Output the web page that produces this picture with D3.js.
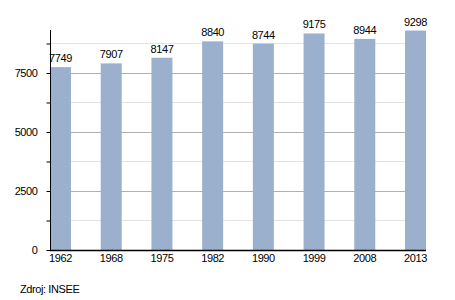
<!DOCTYPE html>
<html>
<head>
<meta charset="utf-8">
<script src="https://cdn.jsdelivr.net/npm/d3@7"></script>
<style>
  body { margin: 0; background: #fff; }
  text { font-family: "Liberation Sans", Arial, sans-serif; font-size: 11px; fill: #000; letter-spacing: -0.4px; }
</style>
</head>
<body>
<script>
var years = ["1962", "1968", "1975", "1982", "1990", "1999", "2008", "2013"];
var population = [7749, 7907, 8147, 8840, 8744, 9175, 8944, 9298];
var majorTicks = [0, 2500, 5000, 7500];
var minorTicks = [1250, 3750, 6250, 8750];

var width = 455, height = 300;
var margin = {top: 30, right: 29, bottom: 50, left: 50};

var svg = d3.select("body").append("svg")
    .attr("width", width)
    .attr("height", height);

var x = d3.scaleBand()
    .domain(years)
    .range([margin.left, width - margin.right])
    .paddingInner(0.586)
    .paddingOuter(0)
    .align(0);

var y = d3.scaleLinear()
    .domain([0, 9322])
    .range([height - margin.bottom, margin.top]);

// minor grid
svg.append("g").selectAll("line").data(minorTicks).enter().append("line")
    .attr("x1", margin.left).attr("x2", width - margin.right)
    .attr("y1", d => Math.round(y(d)) + 0.5).attr("y2", d => Math.round(y(d)) + 0.5)
    .attr("stroke", "#e2e2e2");

// major grid
svg.append("g").selectAll("line").data(majorTicks.slice(1)).enter().append("line")
    .attr("x1", margin.left).attr("x2", width - margin.right)
    .attr("y1", d => Math.round(y(d)) + 0.5).attr("y2", d => Math.round(y(d)) + 0.5)
    .attr("stroke", "#b0b0b0");

// bars
svg.append("g")
    .attr("fill", "#9ab0cc")
  .selectAll("rect").data(population).enter().append("rect")
    .attr("x", (d, i) => x(years[i]))
    .attr("y", d => y(d))
    .attr("width", x.bandwidth())
    .attr("height", d => y(0) - y(d));

// value labels
svg.append("g").selectAll("text").data(population).enter().append("text")
    .attr("x", (d, i) => x(years[i]) + x.bandwidth() / 2)
    .attr("y", d => y(d) - 5)
    .attr("text-anchor", "middle")
    .text(d => d);

// y axis
var yAxis = g => g
    .attr("transform", `translate(${margin.left + 0.5},0)`)
    .call(d3.axisLeft(y).tickValues(majorTicks.concat(minorTicks)).tickSize(4).tickPadding(9)
      .tickFormat(d => majorTicks.indexOf(d) >= 0 ? d : ""))
    .call(g => g.select(".domain").attr("d", `M0,${margin.top}V${y(0)}`).attr("stroke", "#000"))
    .call(g => g.selectAll(".tick line").attr("stroke", "#000"))
    .call(g => g.selectAll("text").attr("font-size", null).attr("font-family", null));

svg.append("g").call(yAxis);

// x axis
var xAxis = g => g
    .attr("transform", `translate(0,${Math.round(y(0)) + 0.5})`)
    .call(d3.axisBottom(x).tickSize(0).tickPadding(4))
    .call(g => g.select(".domain").attr("d", `M${margin.left},0H${width - margin.right}`).attr("stroke", "#000").attr("stroke-width", 1.3))
    .call(g => g.selectAll("text").attr("font-size", null).attr("font-family", null));

svg.append("g").call(xAxis);

svg.append("text")
    .attr("x", 20)
    .attr("y", 293)
    .text("Zdroj: INSEE");
</script>
</body>
</html>
